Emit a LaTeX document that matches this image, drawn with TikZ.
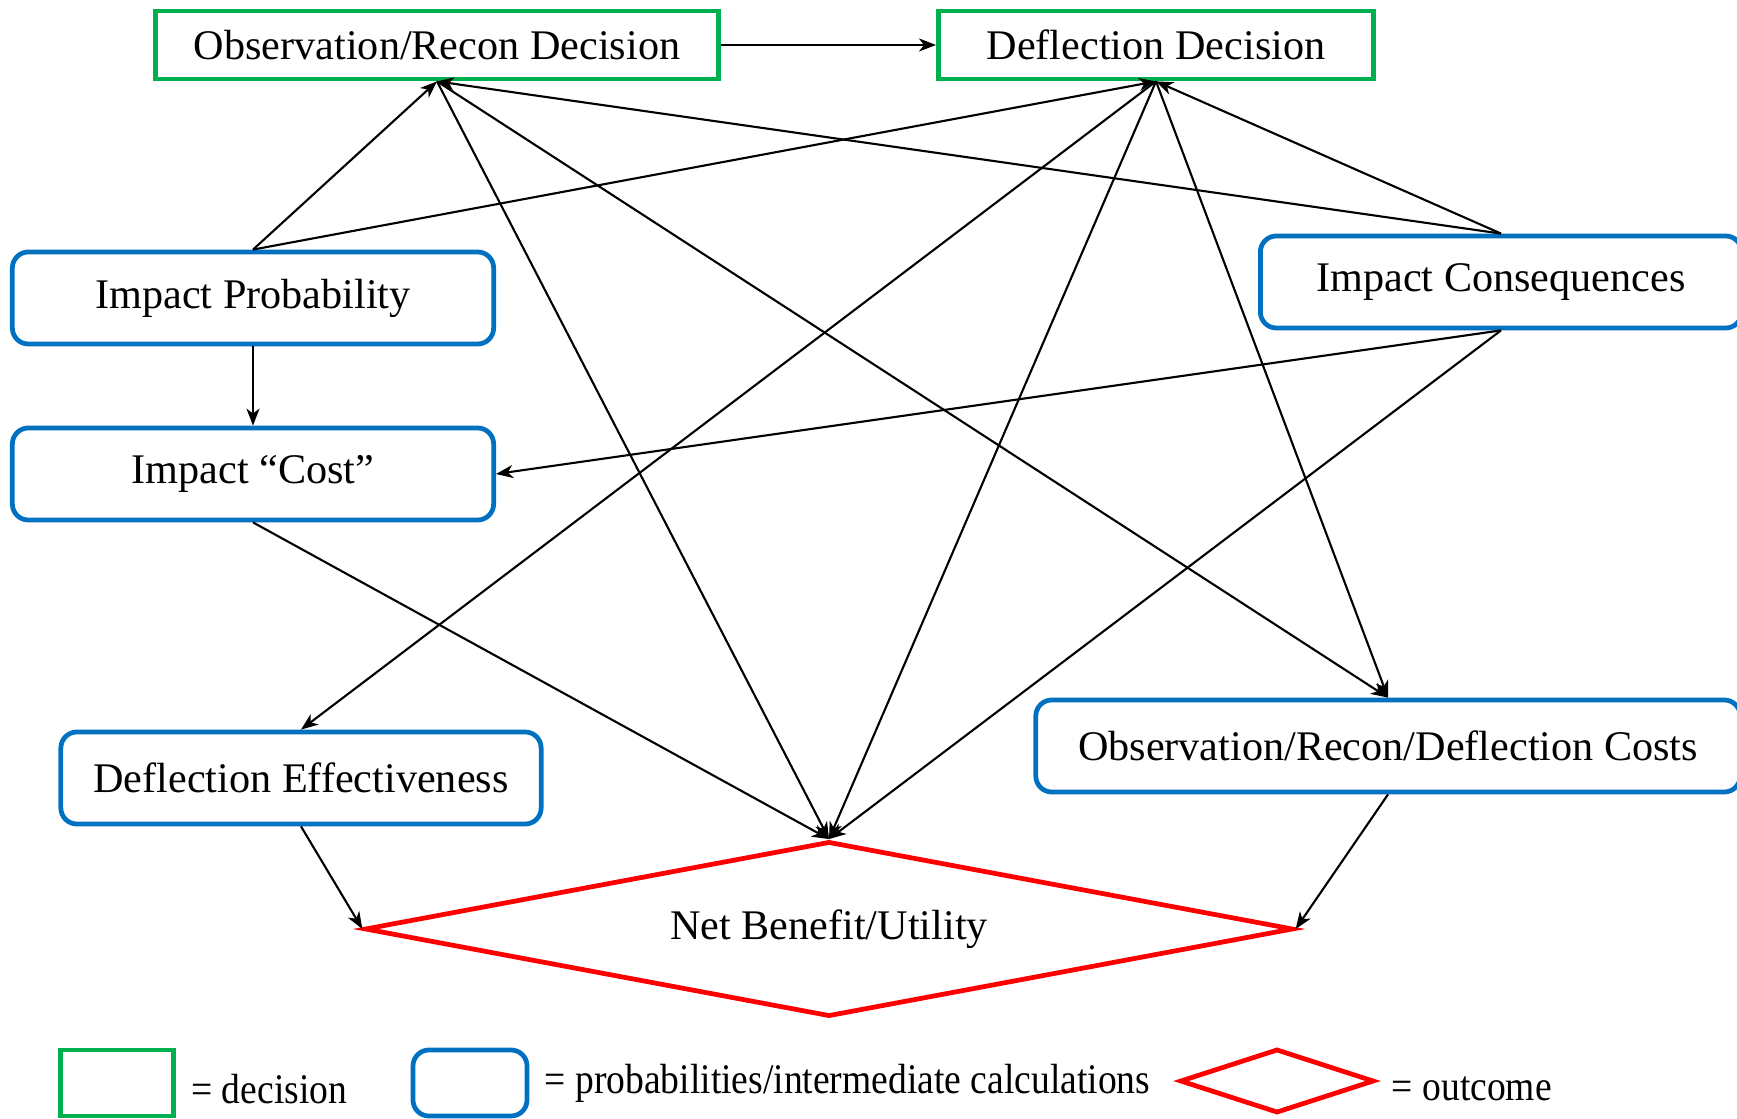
\documentclass[tikz,border=0pt]{standalone}
\usepackage{fontspec}
\setmainfont{Liberation Serif}
\newfontfamily\legfont[FakeStretch=0.89]{Liberation Serif}
\usepackage{tikz}
\usetikzlibrary{positioning,arrows.meta,shapes.geometric}
\definecolor{decgreen}{HTML}{00B050}
\definecolor{calcblue}{HTML}{0070C0}
\definecolor{outred}{HTML}{FF0000}
\newcommand{\lbl}{\fontsize{12}{14}\selectfont}

\begin{document}
\begin{tikzpicture}[x=0.01cm, y=-0.01cm,
  dec/.style={draw=decgreen, line width=1.35pt, minimum height=0.68cm, font=\lbl},
  inter/.style={draw=calcblue, line width=1.35pt, rounded corners=1.6mm, minimum height=0.92cm, font=\lbl},
  outc/.style={diamond, draw=outred, line width=1.35pt, aspect=#1, inner sep=0pt, font=\lbl},
  leg/.style={font=\legfont\lbl},
  arr/.style={-{Stealth[length=1.7mm, width=1.3mm, inset=0.5mm]}, line width=0.6pt}]
\useasboundingbox (0,0) rectangle (1737,1119);
\node[dec, minimum width=5.62cm] (obs) at (437,45) {Observation/Recon Decision};
\node[dec, minimum width=4.35cm] (defl) at (1156,45) {Deflection Decision};
\node[inter, minimum width=4.81cm] (prob) at (253,298) {Impact Probability};
\node[inter, minimum width=4.81cm] (cost) at (253,474) {Impact “Cost”};
\node[inter, minimum width=4.81cm] (cons) at (1501,282) {Impact Consequences};
\node[inter, minimum width=4.80cm] (eff) at (301,778) {Deflection Effectiveness};
\node[inter, minimum width=7.04cm] (costs) at (1388,746) {Observation/Recon/Deflection Costs};
\node[outc=5.3, minimum width=9.28cm, minimum height=1.75cm] (net) at (829,929) {Net Benefit/Utility};
\draw[arr] (obs) -- (defl);
\foreach \a/\b in {prob.north/obs.south, prob.north/defl.south, cons.north/obs.south, cons.north/defl.south,
  prob.south/cost.north, cons.south/cost.east, obs.south/costs.north, obs.south/net.north,
  defl.south/eff.north, defl.south/net.north, defl.south/costs.north, cons.south/net.north,
  cost.south/net.north, eff.south/net.west, costs.south/net.east} \draw[arr] (\a) -- (\b);
% legend
\node[dec, minimum width=1.13cm, minimum height=0.66cm] (kdec) at (117,1083) {};
\node[leg, right=0.3mm of kdec, yshift=-0.6mm] (tdec) {= decision};
\node[inter, minimum width=1.14cm, minimum height=0.66cm] (kint) at (470,1083) {};
\node[leg, right=0.3mm of kint] (tint) {= probabilities/intermediate calculations};
\node[outc=3, minimum width=1.94cm, minimum height=0.64cm] (kout) at (1277,1081) {};
\node[leg, right=0.3mm of kout, yshift=-0.8mm] (tout) {= outcome};
\end{tikzpicture}
\end{document}
